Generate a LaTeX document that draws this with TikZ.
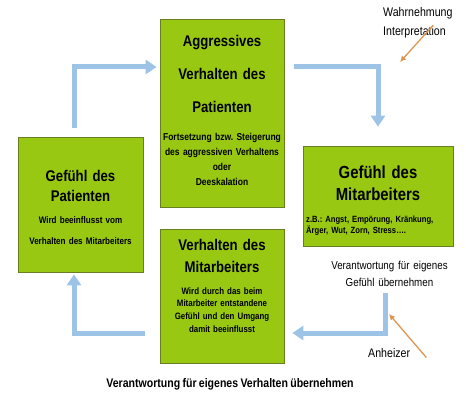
\documentclass[tikz,border=0pt]{standalone}
\usepackage{fontspec}
\setmainfont{Liberation Sans}[FakeStretch=0.85, WordSpace=0.8]
\frenchspacing
\usepackage{tikz}
\usetikzlibrary{arrows.meta}
\definecolor{boxgreen}{RGB}{152,200,18}
\definecolor{boxedge}{RGB}{105,125,35}
\definecolor{flowblue}{RGB}{157,195,230}
\definecolor{cueorange}{RGB}{222,150,80}

\begin{document}
\begin{tikzpicture}[
    x=1pt, y=-1pt,
    box/.style={
      draw=boxedge,
      fill=boxgreen,
      line width=0.7pt,
      inner sep=0pt
    },
    boxhead/.style 2 args={
      font=\bfseries\fontsize{#1}{#2}\selectfont,
      text width=140pt,
      align=center,
      inner sep=0pt,
      anchor=base
    },
    boxtext/.style 2 args={
      font=\bfseries\fontsize{#1}{#2}\selectfont,
      text width=140pt,
      align=center,
      inner sep=0pt,
      anchor=base
    },
    note/.style={font=\fontsize{12.5}{19}\selectfont, inner sep=0pt},
    flow/.style={draw=flowblue, line width=5pt, -{Triangle[length=11pt,width=14pt]}},
    cue/.style={draw=cueorange, line width=1.3pt, -{Latex[length=6pt,width=6pt]}}
  ]
    \useasboundingbox (0,0) rectangle (466,404);

    % the four boxes
    \node[box, minimum width=124pt, minimum height=188pt] (aggr) at (222,113) {};
    \node[box, minimum width=150pt, minimum height=100pt] (feelstaff) at (378,196) {};
    \node[box, minimum width=125pt, minimum height=135pt] (feelpat) at (80.5,204.5) {};
    \node[box, minimum width=124pt, minimum height=134pt] (behav) at (222,296) {};

    \node[boxhead={15.5}{33}] (aggrhead) at (222,47)
      {Aggressives\\Verhalten des\\Patienten};
    \node[boxtext={10}{15.3}] (aggrtext) at (222,140)
      {Fortsetzung bzw. Steigerung\\des aggressiven Verhaltens\\oder\\Deeskalation};

    \node[boxhead={17.5}{22}] (feelstaffhead) at (378,178)
      {Gefühl des\\Mitarbeiters};
    \node[boxtext={9}{10.5}, align=left, anchor=base west] (feelstafftext) at (306,222.5)
      {z.B.: Angst, Empörung, Kränkung,\\Ärger, Wut, Zorn, Stress….};

    \node[boxhead={15.5}{20.5}] (feelpathead) at (80.5,181)
      {Gefühl des\\Patienten};
    \node[boxtext={9.5}{20.3}] (feelpattext) at (80.5,223.7)
      {Wird beeinflusst vom\\Verhalten des Mitarbeiters};

    \node[boxhead={15.5}{22}] (behavhead) at (222,250)
      {Verhalten des\\Mitarbeiters};
    \node[boxtext={9.3}{12.7}] (behavtext) at (222,294)
      {Wird durch das beim\\Mitarbeiter entstandene\\Gefühl und den Umgang\\damit beeinflusst};

    % free texts
    \node[note, font=\fontsize{11.5}{17}\selectfont, text width=140pt, align=center, anchor=base]
      (resp) at (389.5,269) {Verantwortung für eigenes\\Gefühl übernehmen};
    \node[note, font=\bfseries\fontsize{12.4}{15}\selectfont, anchor=base]
      (respbehav) at (230,387) {Verantwortung für eigenes Verhalten übernehmen};
    \node[note, text width=80pt, align=left, anchor=base west]
      (percept) at (383,17) {Wahrnehmung\\Interpretation};
    \node[note, anchor=base west] (heat) at (368,357) {Anheizer};

    \coordinate (upper) at (0,67);
    \coordinate (lower) at (0,333);
    \coordinate (percepttip) at (400,62);
    \coordinate (heattip) at (389,314);

    % cycle
    \draw[flow, shorten <=9pt, shorten >=3pt] ([xshift=-6.5pt]feelpat.north) |- (aggr.west |- upper);
    \draw[flow, shorten <=10pt, shorten >=19pt] (aggr.east |- upper) -| (feelstaff.north);
    \draw[flow, shorten <=7pt, shorten >=8pt] ([xshift=-4.5pt]resp.south) |- (behav.east |- lower);
    \draw[flow, shorten <=15pt, shorten >=2pt] (behav.west |- lower) -| ([xshift=-6.5pt]feelpat.south);

    \draw[cue] ([xshift=10pt,yshift=-2pt]percept.center) -- (percepttip);
    \draw[cue] ([xshift=16pt,yshift=-5pt]heat.east) -- (heattip);
  \end{tikzpicture}
\end{document}
